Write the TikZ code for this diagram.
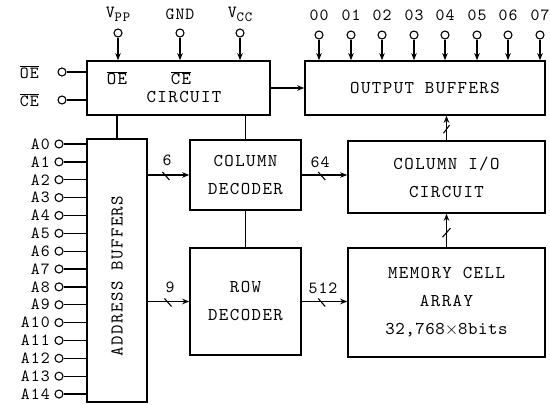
\documentclass[tikz,border=0pt]{standalone}
\usepackage{fontspec}
\usetikzlibrary{arrows.meta,calc}
\newfontfamily\boxtt{lmmono10-regular}[Extension=.otf, LetterSpace=8]
\newfontfamily\pintt{lmmono10-regular}[Extension=.otf, LetterSpace=6]
\newfontfamily\numtt{lmmono10-regular}[Extension=.otf, LetterSpace=3]
\newcommand{\boxfont}{\boxtt\fontsize{18}{28}\selectfont}
\newcommand{\pinfont}{\pintt\fontsize{17}{18}\selectfont}
\newcommand{\ovl}[1]{$\overline{\mbox{#1}}$}
\tikzset{
  blk/.style={draw, line width=1.6pt, inner sep=0pt, align=center, font=\boxfont},
  pin/.style={draw, circle, minimum size=8pt, inner sep=0pt, line width=1.1pt, fill=white},
  lbl/.style={font=\pinfont, inner sep=1pt},
  wire/.style={line width=1.3pt},
  bus/.style={line width=1.3pt, -{Stealth[length=7pt,width=5.5pt]}},
  tick/.style={line width=1.1pt},
}
\begin{document}
\begin{tikzpicture}[x=1pt,y=-1pt]
\useasboundingbox (0,0) rectangle (550,406);
% blocks
\node[blk, minimum width=183pt, minimum height=54pt] (ctl) at (178.5,88) {};
\node[font=\boxfont] (oetxt) at (117,78) {\ovl{OE}};
\node[font=\boxfont] (cetxt) at (181,78) {\ovl{CE}};
\node[font=\boxfont] (cirtxt) at (184,97) {CIRCUIT};
\node[blk, minimum width=240pt, minimum height=54pt] (ob) at (425,88) {OUTPUT\ BUFFERS};
\node[blk, minimum width=60pt, minimum height=263pt] (ab) at (117,270.5) {};
\node[font=\boxfont, rotate=90] (abtxt) at (117,276) {ADDRESS\ BUFFERS};
\node[blk, minimum width=111pt, minimum height=70pt] (cd) at (245.5,175) {COLUMN\\DECODER};
\node[blk, minimum width=111pt, minimum height=107pt] (rd) at (245.5,301.5) {ROW\\DECODER};
\node[blk, minimum width=197pt, minimum height=72pt] (cio) at (446.5,177) {COLUMN I/O\\CIRCUIT};
\node[blk, minimum width=197pt, minimum height=109pt] (mem) at (446.5,302.5) {MEMORY CELL\\ARRAY\\{\numtt 32,768$\times$8bits}};
% internal wires
\draw[wire] (ctl.south -| ab.north) -- (ab.north);
\draw[wire] (ctl.south -| cd.north) -- (cd.north);
\draw[wire] (cd.south) -- (rd.north);
\draw[bus] (ctl.east) -- (ob.west);
% buses
\draw[bus] (ab.east |- cd.west) -- coordinate[pos=0.45] (s1) (cd.west);
\draw[tick] ($(s1)+(-4,-3)$) -- ($(s1)+(3,5)$);
\node[lbl] (n6) at (167,160) {6};
\draw[bus] (ab.east |- rd.west) -- coordinate[pos=0.5] (s2) (rd.west);
\draw[tick] ($(s2)+(-4,-3)$) -- ($(s2)+(3,5)$);
\node[lbl] (n9) at (170,287) {9};
\draw[bus] (cd.east) -- coordinate[pos=0.45] (s3) (cio.west |- cd.east);
\draw[tick] ($(s3)+(-4,-3)$) -- ($(s3)+(3,5)$);
\node[lbl] (n64) at (320,162) {64};
\draw[bus] (rd.east) -- coordinate[pos=0.45] (s4) (mem.west |- rd.east);
\draw[tick] ($(s4)+(-4,-3)$) -- ($(s4)+(3,5)$);
\node[lbl] (n512) at (323,288) {512};
\draw[bus] (mem.north) -- coordinate[pos=0.45] (s5) (cio.south);
\draw[tick] ($(s5)+(-4,5)$) -- ($(s5)+(4,-4)$);
\draw[bus] (cio.north) -- coordinate[pos=0.45] (s6) (cio.north |- ob.south);
\draw[tick] ($(s6)+(-3,4)$) -- ($(s6)+(3,-4)$);
% power pins
\foreach \nm/\x/\t in {vpp/118/{V\raisebox{-4pt}{\fontsize{14}{14}\selectfont PP}},gnd/180/GND,vcc/240/{V\raisebox{-4pt}{\fontsize{14}{14}\selectfont CC}}}{
  \node[pin] (\nm) at (\x,33) {};
  \node[lbl] (\nm l) at (\x,14) {\t};
  \draw[bus] (\nm) -- (\nm |- ctl.north);
}
% output pins
\foreach \i/\x in {0/319,1/351,2/382,3/414,4/445,5/477,6/508,7/540}{
  \node[pin] (o\i) at (\x,35) {};
  \node[lbl] (o\i l) at (\x,15) {0\i};
  \draw[bus] (o\i) -- (o\i |- ob.north);
}
% control pins
\node[pin] (oe) at (62,72) {};
\node[lbl, anchor=east] (oel) at (40,72) {\ovl{OE}};
\draw[wire] (oe) -- (oe -| ctl.west);
\node[pin] (ce) at (62,100) {};
\node[lbl, anchor=east] (cel) at (40,100) {\ovl{CE}};
\draw[wire] (ce) -- (ce -| ctl.west);
% address pins
\foreach \i in {0,...,14}{
  \node[pin] (a\i) at (59,{144+17.86*\i}) {};
  \node[lbl, anchor=east] (a\i l) at (51,{144+17.86*\i}) {A\i};
  \draw[wire] (a\i) -- (a\i -| ab.west);
}
\end{tikzpicture}
\end{document}
